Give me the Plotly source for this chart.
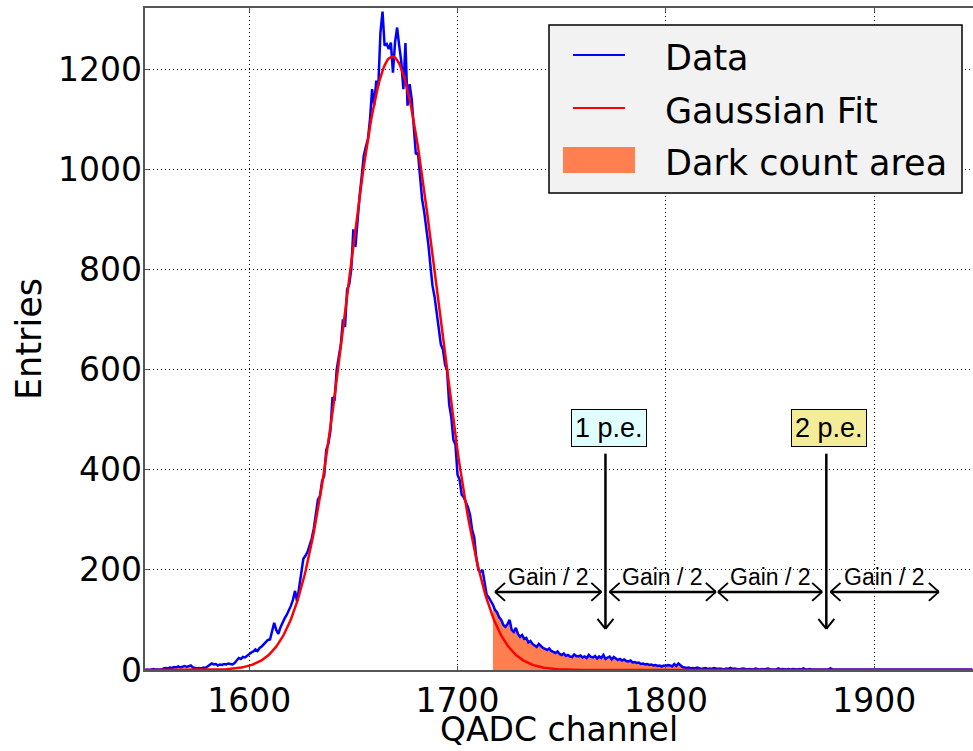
import numpy as np
import plotly.graph_objects as go

# ---- histogram: entries per QADC channel, starting at channel 1550 ----
channel_start = 1550
entries = [
    0, 1, 0, 1, 2, 1, 1, 2, 1, 3,
    4, 3, 5, 4, 6, 5, 7, 5, 6, 8,
    6, 7, 9, 5, 4, 3, 4, 3, 5, 4,
    7, 10, 13, 11, 12, 9, 11, 10, 12, 11,
    13, 12, 11, 14, 19, 24, 22, 26, 25, 29,
    33, 35, 37, 41, 38, 44, 47, 52, 56, 60,
    61, 78, 94, 80, 72, 85, 95, 103, 110, 118,
    128, 140, 158, 137, 165, 190, 222, 228, 236, 249,
    262, 282, 310, 340, 348, 378, 388, 440, 452, 478,
    545, 538, 600, 625, 650, 700, 685, 760, 770, 800,
    880, 845, 900, 947, 985, 1027, 1045, 1060, 1100, 1160,
    1127, 1177, 1167, 1273, 1315, 1247, 1250, 1240, 1253, 1193,
    1253, 1283, 1247, 1215, 1160, 1252, 1127, 1170, 1140, 1085,
    1030, 1033, 985, 940, 915, 887, 850, 807, 767, 745,
    713, 690, 650, 640, 610, 598, 530, 505, 460, 450,
    390, 380, 350, 345, 335, 325, 310, 280, 265, 225,
    200, 195, 200, 170, 150, 145, 138, 130, 120, 115,
    105, 100, 90, 86, 92, 100, 80, 76, 84, 72,
    66, 70, 62, 64, 55, 58, 52, 48, 46, 52,
    47, 44, 42, 40, 43, 38, 36, 34, 37, 32,
    30, 33, 28, 30, 27, 26, 31, 28, 27, 29,
    25, 27, 24, 30, 26, 25, 28, 23, 27, 24,
    30, 22, 25, 27, 21, 26, 23, 20, 22, 19,
    21, 18, 17, 19, 15, 16, 14, 15, 12, 13,
    11, 12, 10, 11, 9, 10, 8, 9, 7, 9,
    8, 10, 9, 7, 12, 8, 13, 9, 6, 5,
    4, 5, 3, 4, 3, 5, 3, 2, 3, 4,
    2, 3, 2, 4, 3, 2, 3, 2, 1, 3,
    2, 4, 2, 3, 2, 1, 2, 3, 2, 1,
    2, 2, 1, 3, 2, 1, 2, 1, 2, 3,
    1, 1, 2, 1, 3, 1, 2, 1, 1, 2,
    1, 2, 1, 1, 2, 1, 3, 1, 1, 2,
    1, 1, 2, 1, 1, 1, 2, 1, 1, 3,
    1, 1, 1, 2, 1, 1, 1, 2, 1, 1,
    1, 2, 1, 1, 1, 2, 1, 1, 1, 1,
    2, 1, 1, 1, 2, 1, 1, 1, 1, 2,
    1, 1, 1, 2, 1, 1, 1, 1, 2, 1,
    1, 1, 1, 1, 1, 2, 1, 1, 1, 1,
    1, 1, 2, 1, 1, 1, 1, 1, 2, 1,
    1, 1, 1, 1, 1, 2, 1, 1,
]
channels = list(range(channel_start, channel_start + len(entries)))

# ---- Gaussian fit of the pedestal ----
fit_amplitude = 1225.0
fit_mean = 1668.7
fit_sigma = 21.8

# ---- dark count region (everything above pedestal + gain/2) ----
dark_count_start = 1717

# ---- photo-electron markers ----
pe_labels = ["1 p.e.", "2 p.e."]
pe_channels = [1771, 1877]
pe_label_colors = ["#E0FFFF", "#F3EC98"]
pe_label_y = 484
pe_arrow_top = 432
pe_arrow_tip = 82

# ---- gain/2 spans ----
gain_label = "Gain / 2"
gain_left = [1718, 1773, 1825, 1879]
gain_right = [1769, 1824, 1875, 1931]
gain_arrow_y = 156
gain_label_y = 185

# ---- axes ----
x_range = [1550, 1947.4]
y_range = [0, 1322]
x_ticks = [1600, 1700, 1800, 1900]
y_ticks = [0, 200, 400, 600, 800, 1000, 1200]
x_title = "QADC channel"
y_title = "Entries"

# ---- series styling ----
data_name, data_color = "Data", "#0000FF"
fit_name, fit_color = "Gaussian Fit", "#FF0000"
dark_name, dark_color = "Dark count area", "#FF7F50"

fit_x = np.linspace(x_range[0], x_range[1], 800)
fit_y = fit_amplitude * np.exp(-((fit_x - fit_mean) ** 2) / (2 * fit_sigma ** 2))

dark_x = [c for c in channels if c >= dark_count_start]
dark_y = [e for c, e in zip(channels, entries) if c >= dark_count_start]

fig = go.Figure()

fig.add_trace(go.Scatter(
    x=dark_x, y=dark_y, mode="lines", fill="tozeroy",
    fillcolor=dark_color, line=dict(width=0, color=dark_color),
    name=dark_name, showlegend=False,
))
fig.add_trace(go.Scatter(
    x=channels, y=entries, mode="lines",
    line=dict(color=data_color, width=2.5),
    name=data_name, showlegend=False,
))
fig.add_trace(go.Scatter(
    x=fit_x, y=fit_y, mode="lines",
    line=dict(color=fit_color, width=2.5),
    name=fit_name, showlegend=False,
))

shapes = []
annotations = []
black = dict(color="black", width=2.5)
head = dict(color="black", width=2)


def head_stroke(ax, ay, dx, dy):
    return dict(type="line", xref="x", yref="y", xsizemode="pixel", ysizemode="pixel",
                xanchor=ax, yanchor=ay, x0=0, y0=0, x1=dx, y1=dy, line=head)


# vertical p.e. arrows with labelled boxes
for label, ch, col in zip(pe_labels, pe_channels, pe_label_colors):
    shapes.append(dict(type="line", xref="x", yref="y", x0=ch, x1=ch,
                       y0=pe_arrow_top, y1=pe_arrow_tip, line=black))
    shapes.append(head_stroke(ch, pe_arrow_tip, -8, 10))
    shapes.append(head_stroke(ch, pe_arrow_tip, 8, 10))
    annotations.append(dict(
        x=ch + 1.5, y=pe_label_y, xref="x", yref="y", text=label, showarrow=False,
        font=dict(family="Liberation Sans, Arial", size=27, color="black"),
        bgcolor=col, bordercolor="black", borderwidth=1, borderpad=3,
    ))

# horizontal double-headed gain/2 arrows
for lo, hi in zip(gain_left, gain_right):
    shapes.append(dict(type="line", xref="x", yref="y", x0=lo, x1=hi,
                       y0=gain_arrow_y, y1=gain_arrow_y, line=black))
    shapes.append(head_stroke(lo, gain_arrow_y, 10, 9))
    shapes.append(head_stroke(lo, gain_arrow_y, 10, -9))
    shapes.append(head_stroke(hi, gain_arrow_y, -10, 9))
    shapes.append(head_stroke(hi, gain_arrow_y, -10, -9))
    annotations.append(dict(
        x=(lo + hi) / 2, y=gain_label_y, xref="x", yref="y", text=gain_label,
        showarrow=False, font=dict(family="Liberation Sans, Arial", size=23, color="black"),
    ))

# ---- frame geometry in pixels, converted to plot-area fractions ----
plot_l, plot_r, plot_t, plot_b = 145, 973, 8, 670


def px(xp):
    return (xp - plot_l) / (plot_r - plot_l)


def py(yp):
    return (plot_b - yp) / (plot_b - plot_t)


# ---- legend box (upper right) ----
shapes.append(dict(type="rect", xref="paper", yref="paper",
                   x0=px(549), x1=px(962), y0=py(193), y1=py(25),
                   fillcolor="#F2F2F2", line=dict(color="black", width=1.5), layer="above"))
row_y = [55, 108, 160]
shapes.append(dict(type="line", xref="paper", yref="paper",
                   x0=px(573), x1=px(625), y0=py(row_y[0]), y1=py(row_y[0]),
                   line=dict(color=data_color, width=2), layer="above"))
shapes.append(dict(type="line", xref="paper", yref="paper",
                   x0=px(573), x1=px(625), y0=py(row_y[1]), y1=py(row_y[1]),
                   line=dict(color=fit_color, width=2), layer="above"))
shapes.append(dict(type="rect", xref="paper", yref="paper",
                   x0=px(563), x1=px(635), y0=py(row_y[2] + 13), y1=py(row_y[2] - 13),
                   fillcolor=dark_color, line=dict(width=0), layer="above"))
for name, yy in zip([data_name, fit_name, dark_name], row_y):
    annotations.append(dict(
        x=px(663), y=py(yy + 3), xref="paper", yref="paper", text=name,
        xanchor="left", yanchor="middle", showarrow=False,
        font=dict(family="DejaVu Sans", size=35, color="black"),
    ))

tick_font = dict(family="DejaVu Sans", size=33, color="black")

# y tick labels hug the axis line
for v in y_ticks:
    annotations.append(dict(
        x=0, y=v, xref="paper", yref="y", text=str(v), showarrow=False,
        xanchor="right", yanchor="middle", xshift=-1, font=tick_font,
    ))

# axis titles
annotations.append(dict(
    x=0.5, y=py(729), xref="paper", yref="paper", text=x_title, showarrow=False,
    xanchor="center", yanchor="middle",
    font=dict(family="DejaVu Sans", size=33, color="black"),
))
annotations.append(dict(
    x=px(29), y=0.5, xref="paper", yref="paper", text=y_title, showarrow=False,
    xanchor="center", yanchor="middle", textangle=-90,
    font=dict(family="DejaVu Sans", size=35, color="black"),
))

axis_common = dict(
    showgrid=True, gridcolor="black", griddash="1px,3px", gridwidth=1,
    showline=True, linecolor="#555555", linewidth=2,
    ticks="inside", ticklen=4, tickcolor="#555555",
    zeroline=False, automargin=False, tickfont=tick_font,
)

fig.update_layout(
    width=973, height=751,
    margin=dict(l=plot_l, r=973 - plot_r, t=plot_t, b=751 - plot_b),
    paper_bgcolor="white", plot_bgcolor="white",
    shapes=shapes, annotations=annotations,
    xaxis=dict(range=x_range, tickvals=x_ticks, mirror="ticks", **axis_common),
    yaxis=dict(range=y_range, tickvals=y_ticks, mirror=False, showticklabels=False,
               **axis_common),
    showlegend=False,
)

fig.write_html("out.html")
